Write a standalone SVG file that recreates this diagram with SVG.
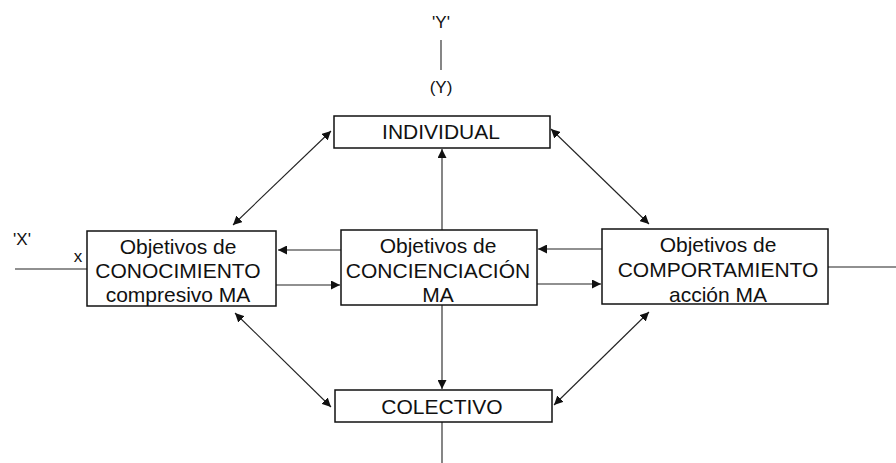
<svg xmlns="http://www.w3.org/2000/svg" width="896" height="463" viewBox="0 0 896 463">
<style>
.box{fill:#fff;stroke:#111;stroke-width:1.5}
.t{font-family:"Liberation Sans",Arial,sans-serif;font-size:21px;fill:#111;text-anchor:middle}
.s{font-family:"Liberation Sans",Arial,sans-serif;font-size:17px;fill:#111;text-anchor:middle}
.c{stroke:#222;stroke-width:1.1;fill:none}
</style>
<defs>
<marker id="ah" viewBox="0 0 10 10" refX="10" refY="5" markerWidth="9" markerHeight="9" markerUnits="userSpaceOnUse" orient="auto-start-reverse">
<path d="M0,0 L10,5 L0,10 z" fill="#111"/>
</marker>
</defs>
<rect width="896" height="463" fill="#fff"/>
<g id="connectors">
<line class="c" x1="441" y1="40" x2="441" y2="70"/>
<line class="c" x1="15" y1="269" x2="87" y2="269"/>
<line class="c" x1="828" y1="267" x2="896" y2="267"/>
<line class="c" x1="442" y1="422" x2="442" y2="463"/>
<line class="c" x1="442" y1="230" x2="442" y2="149" marker-end="url(#ah)"/>
<line class="c" x1="442" y1="305" x2="442" y2="389" marker-end="url(#ah)"/>
<line class="c" x1="341" y1="250" x2="278" y2="250" marker-end="url(#ah)"/>
<line class="c" x1="276" y1="285" x2="340" y2="285" marker-end="url(#ah)"/>
<line class="c" x1="602" y1="249" x2="538" y2="249" marker-end="url(#ah)"/>
<line class="c" x1="537" y1="284" x2="601" y2="284" marker-end="url(#ah)"/>
<line class="c" x1="331" y1="131" x2="233" y2="225" marker-start="url(#ah)" marker-end="url(#ah)"/>
<line class="c" x1="551" y1="129" x2="649" y2="224" marker-start="url(#ah)" marker-end="url(#ah)"/>
<line class="c" x1="235" y1="313" x2="331" y2="407" marker-start="url(#ah)" marker-end="url(#ah)"/>
<line class="c" x1="649" y1="312" x2="554" y2="405" marker-start="url(#ah)" marker-end="url(#ah)"/>
</g>
<g id="labels">
<text class="s" x="441" y="28">'Y'</text>
<text class="s" x="441" y="93">(Y)</text>
<text class="s" x="22" y="245">'X'</text>
<text class="s" x="78" y="262">x</text>
</g>
<g id="individual">
<rect class="box" x="334" y="116" width="216" height="32"/>
<text class="t" x="441" y="139">INDIVIDUAL</text>
</g>
<g id="conocimiento">
<rect class="box" x="87" y="231" width="189" height="75"/>
<text class="t" x="178" y="254">Objetivos de</text>
<text class="t" x="178" y="278">CONOCIMIENTO</text>
<text class="t" x="178" y="302">compresivo MA</text>
</g>
<g id="concienciacion">
<rect class="box" x="341" y="230" width="196" height="75"/>
<text class="t" x="438" y="253">Objetivos de</text>
<text class="t" x="438" y="278">CONCIENCIACIÓN</text>
<text class="t" x="438" y="302">MA</text>
</g>
<g id="comportamiento">
<rect class="box" x="602" y="229" width="226" height="75"/>
<text class="t" x="718" y="252">Objetivos de</text>
<text class="t" x="718" y="277">COMPORTAMIENTO</text>
<text class="t" x="718" y="302">acción MA</text>
</g>
<g id="colectivo">
<rect class="box" x="335" y="390" width="217" height="32"/>
<text class="t" x="442" y="414">COLECTIVO</text>
</g>
</svg>
